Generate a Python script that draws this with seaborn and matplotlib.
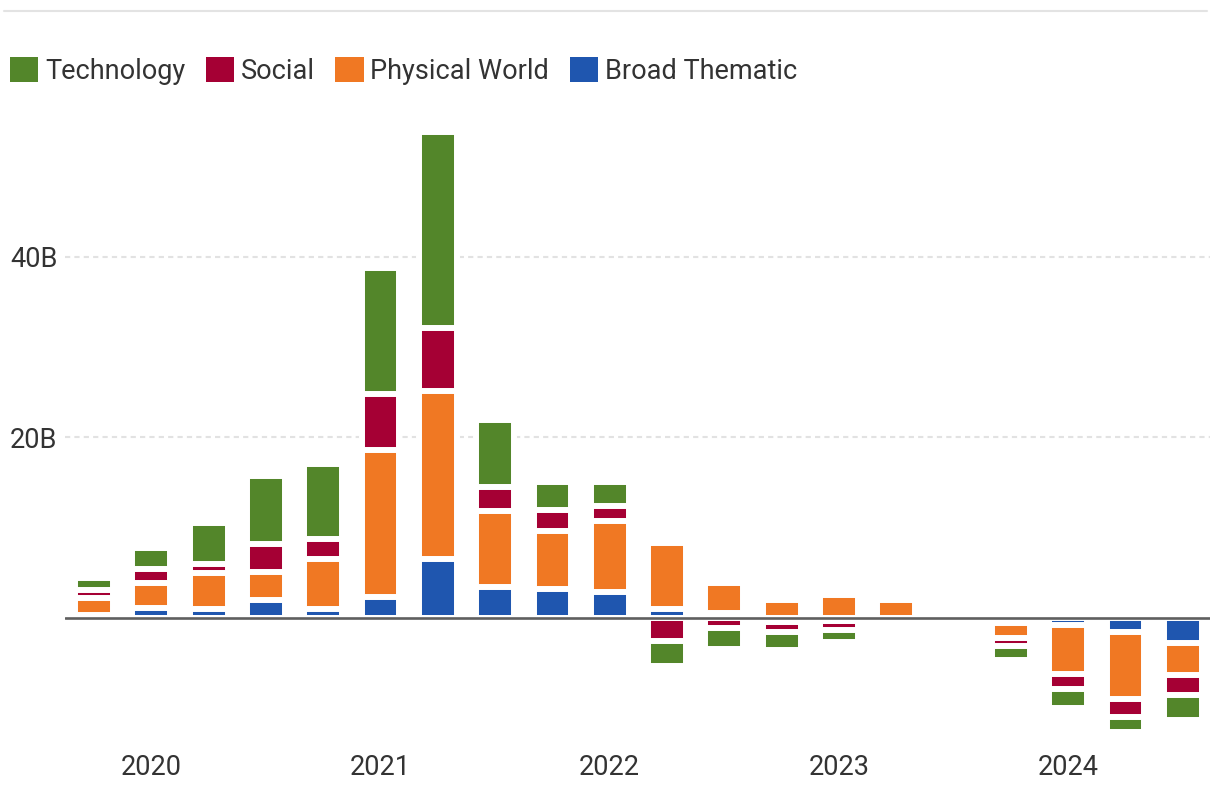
import matplotlib
matplotlib.use('Agg')
import matplotlib.pyplot as plt
from matplotlib.lines import Line2D
from matplotlib.patches import Patch
import pandas as pd
import seaborn as sns

# quarterly flows, in billions (2019 Q4 .. 2024 Q3)
quarters = ['2019Q4', '2020Q1', '2020Q2', '2020Q3', '2020Q4',
            '2021Q1', '2021Q2', '2021Q3', '2021Q4',
            '2022Q1', '2022Q2', '2022Q3', '2022Q4',
            '2023Q1', '2023Q2', '2023Q3', '2023Q4',
            '2024Q1', '2024Q2', '2024Q3']
broad = [0.3, 1.1, 1.0, 2.0, 1.0, 2.3, 6.5, 3.4, 3.2, 2.9,
         1.0, 0.5, -0.4, -0.3, 0.0, 0.0, -0.5, -0.75, -1.55, -2.75]
physical = [1.9, 2.8, 4.0, 3.1, 5.5, 16.3, 18.6, 8.45, 6.4, 7.85,
            7.3, 3.4, 2.0, 2.55, 2.0, 0.0, -1.75, -5.45, -7.4, -3.55]
social = [0.85, 1.5, 1.0, 3.1, 2.25, 6.2, 7.0, 2.65, 2.4, 1.65,
          -2.55, -1.1, -1.2, -1.0, 0.0, 0.0, -0.9, -1.65, -2.0, -2.2]
technology = [1.4, 2.35, 4.5, 7.5, 8.3, 13.95, 21.7, 7.4, 3.1, 2.7,
              -2.75, -2.35, -1.95, -1.35, 0.0, 0.0, -1.55, -2.1, -1.65, -2.8]

year_labels = ['2020', '2021', '2022', '2023', '2024']
year_pos = [1, 5, 9, 13, 17]

series = ['Broad Thematic', 'Physical World', 'Social', 'Technology']
legend_order = ['Technology', 'Social', 'Physical World', 'Broad Thematic']
colors = {'Technology': '#53862A', 'Social': '#A50034',
          'Physical World': '#F07823', 'Broad Thematic': '#1F56AF'}

df = pd.DataFrame({'quarter': quarters, 'Broad Thematic': broad,
                   'Physical World': physical, 'Social': social,
                   'Technology': technology})

# cumulative stacks, positives up and negatives down
pos = df[series].clip(lower=0).cumsum(axis=1)
neg = df[series].clip(upper=0).cumsum(axis=1)

sns.set_style('white')
plt.rcParams['font.family'] = ['Roboto', 'DejaVu Sans']
text_color = '#333333'
fs = 19.5

fig = plt.figure(figsize=(12.2, 8.06), dpi=100)
ax = fig.add_axes([0.0533, 0.082, 0.9385, 0.7674])

# draw top layer first; each lower layer covers the part beneath it,
# white edges give the gaps between segments
for name in reversed(series):
    for stack in (pos, neg):
        sns.barplot(x=df['quarter'], y=stack[name], color=colors[name],
                    saturation=1, width=0.66, edgecolor='white',
                    linewidth=4.3, errorbar=None, ax=ax, zorder=3)

ax.axhline(0, color='#5f5f5f', lw=1.9, zorder=6)

ax.set_xlim(-0.506, 19.476)
ax.set_ylim(-13.5, 55)
for s in ax.spines.values():
    s.set_visible(False)

ax.set_yticks([20, 40])
ax.set_yticklabels(['20B', '40B'])
ax.yaxis.grid(True, ls=(0, (2.5, 2)), color='#e2e2e2', lw=1.5)
ax.set_axisbelow(True)
ax.tick_params(axis='y', length=0, pad=39.6, labelsize=fs, labelcolor=text_color)
for lab in ax.get_yticklabels():
    lab.set_horizontalalignment('left')

ax.set_xticks(year_pos)
ax.set_xticklabels(year_labels)
ax.tick_params(axis='x', length=0, pad=10, labelsize=fs, labelcolor=text_color)
ax.set_xlabel('')
ax.set_ylabel('')

# thin rule across the top
fig.add_artist(Line2D([4 / 1220, 1207 / 1220], [1 - 11 / 806] * 2,
                      color='#e3e3e3', lw=1.5, transform=fig.transFigure))

handles = [Patch(facecolor=colors[n], edgecolor='none') for n in legend_order]
fig.legend(handles, legend_order,
           loc='center left', bbox_to_anchor=(10 / 1220, 1 - 71 / 806),
           ncol=4, frameon=False, fontsize=fs, handlelength=1.05,
           handleheight=1.05, handletextpad=0.25, columnspacing=0.75,
           borderpad=0, borderaxespad=0, labelcolor=text_color)

fig.savefig('out.png', dpi=100, facecolor='white')
